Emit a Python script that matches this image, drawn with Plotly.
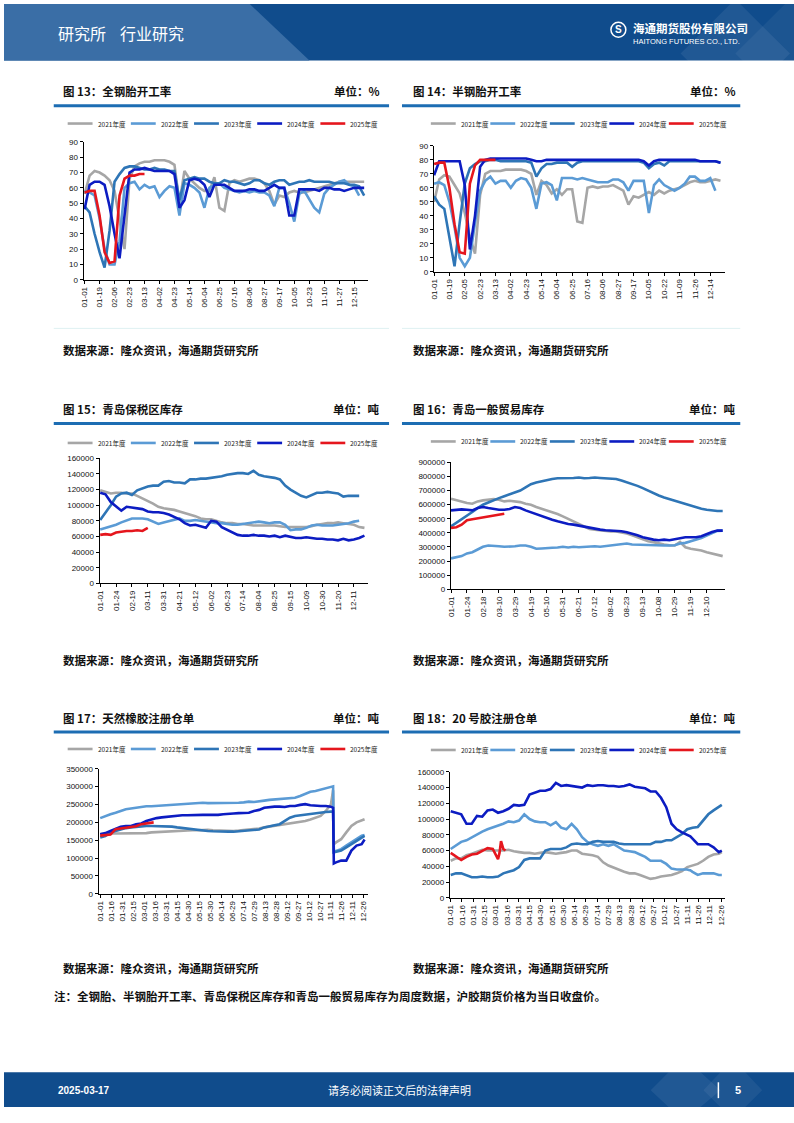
import plotly.graph_objects as go

W, H = 794, 1123
def X(px): return px / W
def Y(py): return 1 - py / H

CJK = "Noto Sans CJK SC"
NUM = "Liberation Sans, Arial, sans-serif"

years = ["2021年度", "2022年度", "2023年度", "2024年度", "2025年度"]
colors = ["#a6a6a6", "#5b9bd5", "#2e75b6", "#0c1cc2", "#e5161d"]

# ---------------- 图13 全钢胎开工率 (%) weekly ----------------
ticks13 = ["01-01","01-19","02-06","02-23","03-13","04-02","04-23","05-14","06-04","06-25",
           "07-16","08-06","08-27","09-17","10-05","10-23","11-10","11-27","12-15"]
qg_2021 = [56,68,71,70,68,65,58,40,20,66,74,76,77,77,78,78,78,77,75,50,71,66,63,60,58,58,67,47,45,63,
           65,64,65,66,66,65,63,58,49,55,54,57,58,57,57,58,59,60,61,62,63,64,64,64,64,64,64]
qg_2022 = [58,57,55,40,20,10,10,25,60,63,64,59,62,60,61,54,58,61,60,42,63,62,60,57,47,60,62,63,60,59,
           58,57,58,57,58,57,57,55,48,60,60,50,38,56,58,52,47,44,56,60,62,64,65,62,61,55]
qg_2023 = [48,44,30,18,8,32,64,69,73,74,74,73,72,72,73,72,72,71,71,52,65,66,67,66,66,64,63,63,65,64,
           64,63,62,63,65,65,63,62,64,65,65,62,63,64,64,65,64,64,64,64,63,63,63,62,62,61,55]
qg_2024 = [46,62,64,64,62,48,30,14,42,70,72,72,73,72,71,71,71,71,69,47,52,65,66,65,62,54,62,62,62,60,
           58,58,58,59,59,58,58,60,62,60,60,42,42,59,59,59,59,58,60,60,59,59,58,59,60,60,60]
qg_2025 = [57,58,58,42,18,11,12,55,66,68,68,69,69]

# ---------------- 图14 半钢胎开工率 (%) weekly ----------------
ticks14 = ["01-01","01-19","02-05","02-23","03-13","04-02","04-23","05-14","06-04","06-25",
           "07-16","08-06","08-27","09-17","10-05","10-22","11-09","11-26","12-14"]
bg_2021 = [50,66,69,68,62,56,42,25,13,55,70,72,72,72,73,73,73,73,72,70,55,65,62,56,59,55,59,59,36,35,
           60,61,60,61,61,62,60,58,48,54,53,55,57,55,58,56,58,59,60,62,64,65,64,64,65,66,65]
bg_2022 = [63,64,62,50,32,10,4,10,35,58,65,68,63,65,65,60,65,67,66,60,45,63,64,62,51,67,67,67,66,67,
           66,65,64,64,64,66,66,64,58,65,65,65,42,62,66,62,60,58,60,63,68,68,65,65,67,58]
bg_2023 = [54,48,45,25,4,35,63,74,77,79,79,80,80,79,79,79,79,79,79,78,68,74,77,77,78,78,78,75,78,79,
           79,79,79,79,79,79,79,79,79,79,79,78,74,77,78,76,79,79,79,79,79,79,79,79,79,79,78]
bg_2024 = [69,79,79,79,79,79,62,16,40,75,80,81,81,81,81,81,81,81,81,80,79,79,80,80,80,80,80,80,80,80,
           80,80,80,80,80,80,80,80,80,80,80,79,76,79,80,80,80,80,80,80,80,80,79,79,79,79,78]
bg_2025 = [77,78,78,60,34,14,13,63,76,80,80,80,80]

# ---------------- 图15 青岛保税区库存 (千吨) weekly ----------------
ticks15 = ["01-01","01-24","02-19","03-11","03-31","04-21","05-12","06-02","06-23","07-14",
           "08-04","08-25","09-15","10-09","10-30","11-20","12-11"]
bs_2021 = [119,117,115,116,116,115,115,112,109,106,102,98,96,95,94,92,90,88,86,83,82,82,80,78,77,77,76,
           76,75,74,74,74,74,74,73,72,72,72,72,72,73,75,76,77,77,78,77,76,75,72,71]
bs_2022 = [69,71,72,75,78,81,83,83,83,82,79,76,78,80,82,83,80,80,81,80,79,78,77,77,76,75,75,76,77,78,
           79,78,77,78,78,75,68,69,69,71,74,75,74,74,74,75,76,77,79,80]
bs_2023 = [81,90,100,111,115,116,113,119,122,124,125,125,130,131,129,129,128,133,133,134,134,135,136,
           137,139,140,141,141,140,144,139,137,136,135,133,125,120,116,112,110,113,116,116,117,116,115,
           111,112,112,112]
bs_2024 = [116,114,104,98,93,98,97,96,95,92,91,91,90,88,85,82,77,74,75,73,71,80,79,72,69,65,62,61,61,
           62,61,61,60,61,59,61,59,58,58,59,58,57,57,56,56,55,57,55,56,58,61]
bs_2025 = [62,63,62,65,66,67,67,68,67,71]

# ---------------- 图16 青岛一般贸易库存 (千吨) weekly ----------------
ticks16 = ["01-01","01-24","02-18","03-10","03-29","04-19","05-10","05-31","06-21","07-12",
           "08-02","08-23","09-13","10-08","10-29","11-19","12-10"]
yb_2021 = [641,630,618,611,606,623,630,634,639,634,623,627,623,618,606,599,583,571,559,550,533,517,500,
           482,463,446,428,423,418,416,409,409,404,395,383,369,352,341,334,324,317,312,310,335,298,287,
           282,275,263,254,244,235]
yb_2022 = [219,228,235,254,263,282,301,310,310,305,301,301,305,310,310,301,287,289,294,294,296,301,296,
           301,298,301,305,305,301,305,310,312,317,324,317,315,315,312,312,312,310,310,312,324,329,341,
           352,364,381,399,414,416]
yb_2023 = [446,470,495,521,548,575,599,615,632,646,660,673,686,700,722,745,757,766,775,782,787,787,785,
           789,792,787,789,792,789,787,782,782,771,759,747,733,717,698,681,665,651,639,627,618,606,594,
           583,571,564,559,555,555]
yb_2024 = [559,564,566,564,559,576,583,576,569,564,564,569,583,576,559,545,533,517,503,493,482,470,463,
           458,451,442,435,425,423,418,416,414,411,404,395,383,369,359,352,348,352,348,357,362,369,369,
           369,376,392,406,416,416]
yb_2025 = [435,440,458,490,497,503,510,514,520,528,535]

# ---------------- 图17 / 图18 注册仓单 (千吨) sampled dates ----------------
ticks_d = ["01-01","01-16","01-31","02-15","03-01","03-16","03-31","04-15","04-30","05-15","05-30",
           "06-14","06-29","07-14","07-29","08-13","08-28","09-12","09-27","10-12","10-27","11-11",
           "11-26","12-11","12-26"]
dates = ["01-01","01-08","01-15","01-22","01-29","02-05","02-12","02-19","02-26","03-04","03-11",
         "03-18","03-25","04-01","04-08","04-15","04-22","04-29","05-06","05-13","05-20","05-27",
         "06-03","06-10","06-17","06-24","07-01","07-08","07-15","07-22","07-29","08-05","08-12",
         "08-19","08-26","09-02","09-09","09-16","09-23","09-30","10-07","10-14","10-21","10-28",
         "11-04","11-11","11-14","11-15","11-18","11-25","12-02","12-09","12-16","12-23","12-27"]

tr_2021 = [167,169,169,169,169,169,169,169,169,170,172,173,174,175,175,176,176,177,178,178,179,179,178,
           177,176,176,176,177,178,179,181,183,186,188,190,193,195,197,200,202,204,208,212,218,232,250,
           290,139,144,153,172,190,200,207,209]
tr_2022 = [212,218,223,227,232,237,239,241,244,245,245,246,248,249,250,251,253,253,255,255,255,254,254,
           253,253,254,255,255,256,258,257,258,261,263,264,265,265,266,269,274,279,286,288,292,297,300,
           301,118,120,125,135,145,155,163,165]
tr_2023 = [158,162,172,176,181,184,186,188,188,190,190,190,189,188,188,186,184,184,181,179,178,176,175,
           174,174,174,174,175,175,176,178,180,186,190,192,195,204,213,218,220,221,223,227,227,229,230,
           230,116,118,121,130,139,149,158,162]
tr_2024 = [167,170,176,181,188,190,190,195,197,204,209,212,214,216,218,218,220,220,221,221,221,221,220,
           221,223,223,225,226,226,227,232,235,241,243,244,244,243,246,246,249,251,248,246,246,246,244,
           241,85,88,93,93,121,135,139,152]
dates_tr25 = ["01-01","01-08","01-15","01-22","01-29","02-05","02-12","02-19","02-26","03-04","03-11","03-14"]
tr_2025 = [163,165,166,181,183,184,186,189,195,197,199,200]

nr_2021 = [47,50,50,54,56,59,61,60,60,60,60,61,59,58,57,57,56,57,58,57,56,57,58,60,60,56,55,54,52,45,
           41,38,36,33,31,31,29,26,24,25,27,28,29,31,34,39,40,40,41,43,47,52,55,56,58]
nr_2022 = [62,66,71,73,77,81,84,87,89,92,94,97,96,98,106,100,97,96,96,92,96,89,87,94,87,77,71,68,66,68,
           66,68,64,60,59,58,55,52,47,47,47,43,37,36,36,36,35,35,33,29,31,31,31,29,29]
nr_2023 = [29,31,31,29,26,26,27,26,26,27,31,33,35,39,48,50,50,50,60,62,62,62,64,68,69,68,68,71,72,71,
           71,71,69,68,68,68,68,68,68,71,71,73,73,77,81,87,88,88,89,90,98,106,111,115,118]
nr_2024 = [110,108,106,94,94,104,103,111,112,108,110,113,118,117,118,131,134,136,136,138,146,142,143,
           142,141,140,143,142,143,143,142,142,141,142,144,141,140,139,135,135,127,115,94,87,83,80,79,78,
           75,68,68,68,64,58,60]
dates_nr25 = ["01-01","01-08","01-15","01-22","01-29","02-05","02-12","02-19","02-26","03-04","03-06",
              "03-08","03-11","03-14"]
nr_2025 = [57,52,48,52,55,56,60,63,62,49,57,72,62,60]

fig = go.Figure()

def sfx(c):
    return "" if c == 1 else str(c)

def add_lines(c, pairs, mult=1):
    s = sfx(c)
    for name, col, (xv, yv) in zip(years, colors, pairs):
        fig.add_trace(go.Scatter(
            x=xv, y=[v * mult for v in yv], mode="lines", name=name, showlegend=False,
            line=dict(color=col, width=2.6), xaxis="x" + s, yaxis="y" + s,
            hoverinfo="skip"))

def idx(v):
    return list(range(len(v)))

def d24(lst, n=None):
    lst = lst if n is None else lst[:n]
    return ["2024-" + d for d in lst]

add_lines(1, [(idx(v), v) for v in [qg_2021, qg_2022, qg_2023, qg_2024, qg_2025]])
add_lines(2, [(idx(v), v) for v in [bg_2021, bg_2022, bg_2023, bg_2024, bg_2025]])
add_lines(3, [(idx(v), v) for v in [bs_2021, bs_2022, bs_2023, bs_2024, bs_2025]], 1000)
add_lines(4, [(idx(v), v) for v in [yb_2021, yb_2022, yb_2023, yb_2024, yb_2025]], 1000)
add_lines(5, [(d24(dates, len(v)), v) for v in [tr_2021, tr_2022, tr_2023, tr_2024]]
          + [(d24(dates_tr25), tr_2025)], 1000)
add_lines(6, [(d24(dates, len(v)), v) for v in [nr_2021, nr_2022, nr_2023, nr_2024]]
          + [(d24(dates_nr25), nr_2025)], 1000)

tickfont = dict(family=NUM, size=8, color="#111")

def axes(c, xl, xr, yt, yb, xrange, xtype, tickvals, ticktext, yrange, dtick):
    s = sfx(c)
    fig.update_layout(**{
        "xaxis" + s: dict(domain=[X(xl), X(xr)], range=xrange, type=xtype, anchor="y" + s,
                          tickmode="array", tickvals=tickvals, ticktext=ticktext, tickangle=-90,
                          ticks="outside", ticklen=3, tickwidth=1, tickcolor="#000",
                          showline=True, linecolor="#000", linewidth=1, showgrid=False,
                          zeroline=False, tickfont=tickfont, fixedrange=True),
        "yaxis" + s: dict(domain=[Y(yb), Y(yt)], range=yrange, dtick=dtick, tick0=0, anchor="x" + s,
                          tickformat="d", ticks="outside", ticklen=3, tickwidth=1, tickcolor="#000",
                          showline=True, linecolor="#000", linewidth=1, showgrid=False,
                          zeroline=False, tickfont=tickfont, fixedrange=True),
    })

axes(1, 80, 366, 139, 278, [-0.2, 56.8], "linear", [3 * k for k in range(len(ticks13))], ticks13, [0, 90], 10)
axes(2, 432, 725, 143, 270, [-0.05, 56.95], "linear", [3 * k for k in range(len(ticks14))], ticks14, [0, 90], 10)
axes(3, 96, 366, 458, 584, [-0.13, 50.7], "linear", [3 * k for k in range(len(ticks15))], ticks15, [0, 160000], 20000)
axes(4, 449, 725, 462, 590, [-0.05, 51.5], "linear", [3 * k for k in range(len(ticks16))], ticks16, [0, 900000], 100000)
axes(5, 95, 366, 771, 897, ["2023-12-29 17:00", "2024-12-31 21:00"], "date", d24(ticks_d), ticks_d, [0, 350000], 50000)
axes(6, 448, 725, 774, 901, ["2023-12-30 17:00", "2024-12-31 17:00"], "date", d24(ticks_d), ticks_d, [0, 160000], 20000)

shapes = []
annotations = []

def rect(x0, y0, x1, y1, color, layer="below"):
    shapes.append(dict(type="rect", xref="paper", yref="paper", x0=X(x0), x1=X(x1), y0=Y(y1), y1=Y(y0),
                       fillcolor=color, line=dict(width=0), layer=layer))

def path(pts, color):
    d = "M" + " L".join(f"{X(px)},{Y(py)}" for px, py in pts) + " Z"
    shapes.append(dict(type="path", xref="paper", yref="paper", path=d, fillcolor=color,
                       line=dict(width=0), layer="below"))

def hline(x0, x1, y, color, width):
    shapes.append(dict(type="line", xref="paper", yref="paper", x0=X(x0), x1=X(x1), y0=Y(y), y1=Y(y),
                       line=dict(color=color, width=width)))

def text(t, x, y, size, color="#111", anchor="left", bold=False, family=CJK):
    annotations.append(dict(text=("<b>%s</b>" % t) if bold else t, x=X(x), y=Y(y), xref="paper",
                            yref="paper", xanchor=anchor, yanchor="middle", showarrow=False,
                            font=dict(family=family, size=size, color=color)))

# legends (one per chart): line sample + label
legend_rows = [(64, 63.5, 120.5), (429, 59.8, 120.5), (64, 63.5, 442.5),
               (429, 59.8, 441), (64, 63.5, 751), (429, 59.8, 752)]
for lx, step, ly in legend_rows:
    for k, (name, col) in enumerate(zip(years, colors)):
        x0 = lx + k * step
        hline(x0, x0 + 25, ly, col, 2.6)
        text(name, x0 + 28, ly, 6.5, "#222")

# header
HDR = "#104c8c"
rect(0, 0, W, 57, HDR)
path([(0, 0), (247, 0), (307, 57), (0, 57)], "#3a6ea6")
path([(735, -5), (790, 50), (735, 105), (680, 50)], "rgba(255,255,255,0.07)")
path([(790, -5), (845, 50), (790, 105), (735, 50)], "rgba(255,255,255,0.05)")
text("研究所", 52, 29, 16, "#ffffff")
text("行业研究", 115, 29, 16, "#ffffff")
shapes.append(dict(type="circle", xref="paper", yref="paper", x0=X(610), x1=X(625), y0=Y(33.5), y1=Y(18.5),
                   line=dict(color="#ffffff", width=1.5)))
text("S", 617.5, 26, 10, "#ffffff", "center", True, NUM)
text("海通期货股份有限公司", 630, 24, 11.5, "#ffffff", bold=True)
text("HAITONG FUTURES CO., LTD.", 630, 37.5, 7.5, "#ffffff", family=NUM)

# footer
rect(0, 1077, W, 1112, HDR)
path([(668, 1077), (700, 1077), (720, 1095), (700, 1112), (668, 1112), (650, 1095)], "rgba(255,255,255,0.07)")
path([(720, 1077), (745, 1077), (762, 1095), (745, 1112), (720, 1112), (703, 1095)], "rgba(255,255,255,0.06)")
text("2025-03-17", 52, 1095, 10, "#ffffff", bold=True, family=NUM)
text("请务必阅读正文后的法律声明", 397, 1095, 11, "#ffffff", "center")
shapes.append(dict(type="line", xref="paper", yref="paper", x0=X(718), x1=X(718), y0=Y(1103), y1=Y(1087),
                   line=dict(color="#ffffff", width=1.5)))
text("5", 738, 1095, 11, "#ffffff", "center", True, NUM)

# panels
BLUE = "#1c6db3"
rows = [(88, 102.5, 349), (408, 423, 661), (720, 734, 972)]
titles = [("图 13：全钢胎开工率", "单位：%", "图 14：半钢胎开工率", "单位：%"),
          ("图 15：青岛保税区库存", "单位：吨", "图 16：青岛一般贸易库存", "单位：吨"),
          ("图 17：天然橡胶注册仓单", "单位：吨", "图 18：20 号胶注册仓单", "单位：吨")]
source = "数据来源：隆众资讯，海通期货研究所"
for (ty, ly, sy), (t1, u1, t2, u2) in zip(rows, titles):
    text(t1, 57, ty, 11.5, "#111", bold=True)
    text(u1, 380, ty, 11.5, "#111", "right", bold=True)
    text(t2, 409, ty, 11.5, "#111", bold=True)
    text(u2, 738, ty, 11.5, "#111", "right", bold=True)
    hline(50, 387, ly, BLUE, 3)
    hline(400, 740, ly, BLUE, 3)
    text(source, 57, sy, 11.5, "#111", bold=True)
    text(source, 409, sy, 11.5, "#111", bold=True)
hline(50, 387, 327, "#dff1f2", 1)
hline(400, 740, 327, "#dff1f2", 1)

text("注：全钢胎、半钢胎开工率、青岛保税区库存和青岛一般贸易库存为周度数据，沪胶期货价格为当日收盘价。",
     48, 1000, 11.5, "#111", bold=True)

fig.update_layout(width=W, height=H, autosize=False, margin=dict(l=0, r=0, t=0, b=0),
                  paper_bgcolor="#ffffff", plot_bgcolor="#ffffff", shapes=shapes,
                  annotations=annotations, hovermode=False, showlegend=False)

fig.write_html("out.html", config={"displayModeBar": False},
               post_script="document.body.style.margin='0';")
